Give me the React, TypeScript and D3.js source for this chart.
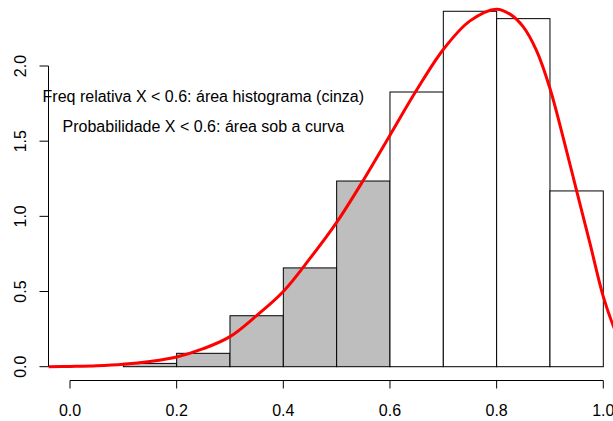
import React from "react";
import * as d3 from "d3";

const binStarts = [0.1, 0.2, 0.3, 0.4, 0.5, 0.6, 0.7, 0.8, 0.9];
const binDensity = [0.022, 0.089, 0.339, 0.657, 1.235, 1.827, 2.364, 2.315, 1.169];
const shadedBelow = 0.6;

const curveX = [-0.04, 0.0, 0.05, 0.1, 0.15, 0.2, 0.25, 0.3, 0.35, 0.4, 0.45, 0.5, 0.55, 0.6, 0.65, 0.7, 0.75, 0.8, 0.825, 0.85, 0.875, 0.9, 0.925, 0.95, 0.975, 1.0, 1.02, 1.04];
const curveY = [0.0, 0.002, 0.006, 0.016, 0.035, 0.065, 0.12, 0.2, 0.34, 0.5, 0.72, 0.96, 1.24, 1.54, 1.84, 2.11, 2.3, 2.378, 2.345, 2.26, 2.1, 1.85, 1.52, 1.17, 0.82, 0.466, 0.26, 0.1];

const xTicks = [0, 0.2, 0.4, 0.6, 0.8, 1.0];
const yTicks = [0, 0.5, 1.0, 1.5, 2.0];
const notes = [
  { x: 0.25, y: 1.8, text: "Freq relativa X < 0.6: área histograma (cinza)" },
  { x: 0.25, y: 1.6, text: "Probabilidade X < 0.6: área sob a curva" },
];

export default function App() {
  const W = 613, H = 421;
  const x = d3.scaleLinear().domain([0, 1]).range([70, 603.3]);
  const y = d3.scaleLinear().domain([0, 2]).range([366.7, 66]);
  const line = d3
    .line<number>()
    .x((_, i) => x(curveX[i]))
    .y((d) => y(d))
    .curve(d3.curveCatmullRom.alpha(0.5));
  const font = "'Liberation Sans', Arial, sans-serif";
  const yAxisX = 48.5;
  const xAxisY = 380.5;
  return (
    <svg width={W} height={H} style={{ position: "absolute", left: 0, top: 0, background: "#fff" }}>
      {binStarts.map((b, i) => (
        <rect
          key={i}
          x={x(b)}
          y={y(binDensity[i])}
          width={x(b + 0.1) - x(b)}
          height={y(0) - y(binDensity[i])}
          fill={b < shadedBelow ? "#BEBEBE" : "#FFFFFF"}
          stroke="#000"
          strokeWidth={1}
        />
      ))}
      {notes.map((n, i) => (
        <text key={i} x={x(n.x)} y={y(n.y)} dy="0.35em" textAnchor="middle" fontFamily={font} fontSize={16} fill="#000">
          {n.text}
        </text>
      ))}
      <path d={line(curveY) || ""} fill="none" stroke="#FF0000" strokeWidth={3} />
      {/* y axis */}
      <line x1={yAxisX} x2={yAxisX} y1={y(0)} y2={y(2)} stroke="#000" />
      {yTicks.map((t) => (
        <g key={t}>
          <line x1={yAxisX - 9} x2={yAxisX} y1={y(t)} y2={y(t)} stroke="#000" />
          <text
            transform={`translate(${20},${y(t)}) rotate(-90)`}
            textAnchor="middle"
            dy="0.35em"
            fontFamily={font}
            fontSize={16}
          >
            {t.toFixed(1)}
          </text>
        </g>
      ))}
      {/* x axis */}
      <line x1={x(0)} x2={x(1)} y1={xAxisY} y2={xAxisY} stroke="#000" />
      {xTicks.map((t) => (
        <g key={t}>
          <line x1={x(t)} x2={x(t)} y1={xAxisY} y2={xAxisY + 8} stroke="#000" />
          <text x={x(t)} y={410} dy="0.35em" textAnchor="middle" fontFamily={font} fontSize={16}>
            {t.toFixed(1)}
          </text>
        </g>
      ))}
    </svg>
  );
}
